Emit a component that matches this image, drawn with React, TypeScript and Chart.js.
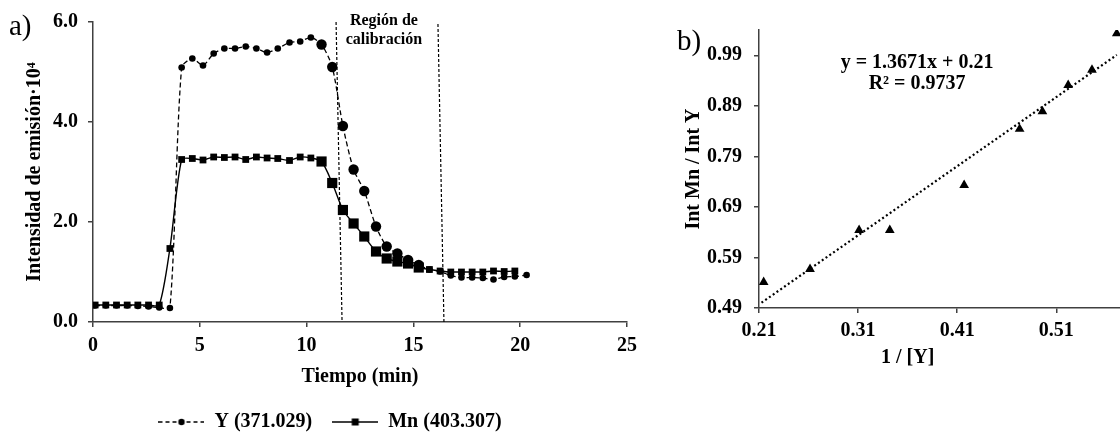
import React, { useEffect, useRef } from 'react';
import { Chart, registerables } from 'chart.js';
Chart.register(...registerables);

const FONT = "'Liberation Serif', 'Times New Roman', serif";

// ---------- Panel a) ----------
const TIME_MIN = [0.1, 0.6, 1.1, 1.6, 2.1, 2.6, 3.1, 3.6, 4.15, 4.65, 5.15, 5.65, 6.15, 6.65, 7.15, 7.65, 8.15, 8.65, 9.2, 9.7, 10.2, 10.7, 11.2, 11.7, 12.2, 12.7, 13.25, 13.75, 14.25, 14.75, 15.25, 15.75, 16.25, 16.75, 17.25, 17.75, 18.25, 18.75, 19.25, 19.75, 20.3];
const Y_371 = [0.33, 0.33, 0.33, 0.33, 0.32, 0.31, 0.29, 0.28, 5.09, 5.27, 5.13, 5.37, 5.47, 5.47, 5.51, 5.47, 5.39, 5.47, 5.59, 5.61, 5.69, 5.55, 5.10, 3.92, 3.05, 2.62, 1.91, 1.51, 1.37, 1.24, 1.14, 1.05, 1.01, 0.93, 0.89, 0.89, 0.88, 0.85, 0.9, 0.91, 0.94];
const MN_403 = [0.34, 0.34, 0.34, 0.34, 0.34, 0.34, 0.34, 1.47, 3.25, 3.27, 3.24, 3.3, 3.29, 3.3, 3.25, 3.3, 3.28, 3.27, 3.23, 3.3, 3.28, 3.21, 2.78, 2.24, 1.97, 1.71, 1.41, 1.27, 1.21, 1.17, 1.09, 1.05, 1.02, 1.0, 1.0, 1.0, 1.0, 1.02, 1.01, 1.02, null];
const SERIES_LABELS = ['Y (371.029)', 'Mn (403.307)'];
const CAL_START_X = [11.38, 11.66];
const CAL_START_Y = [6.0, 0.0];
const CAL_END_X = [16.15, 16.43];
const CAL_END_Y = [5.96, 0.0];
const REGION_LABEL = ['Región de', 'calibración'];
const REGION_LABEL_X = 13.62;
const A_X_TICKS = [0, 5, 10, 15, 20, 25];
const A_Y_TICKS = [0, 2, 4, 6];
const BIG_MARK_RANGE = [10.6, 15.3];

// ---------- Panel b) ----------
const INV_Y = [0.2147, 0.2615, 0.311, 0.342, 0.417, 0.473, 0.496, 0.522, 0.546, 0.571];
const RATIO = [0.541, 0.567, 0.644, 0.644, 0.733, 0.844, 0.879, 0.931, 0.961, 1.033];
const TREND_SLOPE = 1.3671;
const TREND_INTERCEPT = 0.21;
const TREND_X = [0.2125, 0.571];
const EQUATION = ['y = 1.3671x + 0.21', 'R² = 0.9737'];
const B_X_TICKS = [0.21, 0.31, 0.41, 0.51];
const B_Y_TICKS = [0.49, 0.59, 0.69, 0.79, 0.89, 0.99];

const LEFT_W = 660;
const LEFT_H = 442;
const RIGHT_LEFT = 650;
const RIGHT_W = 511;
const RIGHT_H = 432;
const AXIS_COLOR = '#404040';

const tickFont = { family: FONT, size: 20, weight: 'bold' as const };

function makeIcon(kind: 'circle' | 'square') {
  const c = document.createElement('canvas');
  c.width = 46;
  c.height = 12;
  const g = c.getContext('2d')!;
  g.strokeStyle = '#000';
  g.fillStyle = '#000';
  g.lineWidth = 1.3;
  if (kind === 'circle') g.setLineDash([4, 3]);
  g.beginPath();
  g.moveTo(0, 6);
  g.lineTo(46, 6);
  g.stroke();
  g.setLineDash([]);
  if (kind === 'circle') {
    g.beginPath();
    g.arc(23, 6, 3.2, 0, Math.PI * 2);
    g.fill();
  } else {
    g.fillRect(19.5, 2.5, 7, 7);
  }
  return c;
}

const isBig = (t: number) => t >= BIG_MARK_RANGE[0] && t <= BIG_MARK_RANGE[1];

export default function App() {
  const leftRef = useRef<HTMLCanvasElement>(null);
  const rightRef = useRef<HTMLCanvasElement>(null);

  useEffect(() => {
    const icons = [makeIcon('circle'), makeIcon('square')];

    const leftText = {
      id: 'leftText',
      afterDraw(chart: any) {
        const { ctx, scales } = chart;
        const x = scales.x;
        const y = scales.y;
        ctx.save();
        ctx.fillStyle = '#000';
        ctx.font = `29px ${FONT}`;
        ctx.textAlign = 'left';
        ctx.textBaseline = 'alphabetic';
        ctx.fillText('a)', 9, 35);
        ctx.font = `bold 16px ${FONT}`;
        ctx.textAlign = 'center';
        ctx.textBaseline = 'middle';
        const cx = x.getPixelForValue(REGION_LABEL_X);
        ctx.fillText(REGION_LABEL[0], cx, y.top - 1);
        ctx.fillText(REGION_LABEL[1], cx, y.top + 18);
        ctx.restore();
      },
    };

    const axisCommon = {
      border: { display: true, color: AXIS_COLOR, width: 1.5 },
      grid: { drawOnChartArea: false, drawTicks: true, tickLength: 5, color: AXIS_COLOR, lineWidth: 1.5 },
    };

    const left = new Chart(leftRef.current!, {
      type: 'line',
      data: {
        datasets: [
          {
            label: SERIES_LABELS[0],
            data: TIME_MIN.map((t, i) => ({ x: t, y: Y_371[i] })),
            borderColor: '#000',
            backgroundColor: '#000',
            borderWidth: 1.3,
            borderDash: [5, 3],
            pointStyle: 'circle',
            pointRadius: TIME_MIN.map((t) => (isBig(t) ? 5.2 : 3.3)),
            pointBorderWidth: 0,
            pointBackgroundColor: '#000',
            tension: 0.25,
          },
          {
            label: SERIES_LABELS[1],
            data: TIME_MIN.map((t, i) => ({ x: t, y: MN_403[i] })),
            borderColor: '#000',
            backgroundColor: '#000',
            borderWidth: 1.4,
            pointStyle: 'rect',
            pointRadius: TIME_MIN.map((t) => (isBig(t) ? 7.2 : 4.8)),
            pointBorderWidth: 0,
            pointBackgroundColor: '#000',
            tension: 0.25,
          },
          {
            label: 'cal-start',
            data: CAL_START_X.map((v, i) => ({ x: v, y: CAL_START_Y[i] })),
            borderColor: '#000',
            borderWidth: 1.2,
            borderDash: [3, 2],
            pointRadius: 0,
            tension: 0,
          },
          {
            label: 'cal-end',
            data: CAL_END_X.map((v, i) => ({ x: v, y: CAL_END_Y[i] })),
            borderColor: '#000',
            borderWidth: 1.2,
            borderDash: [3, 2],
            pointRadius: 0,
            tension: 0,
          },
        ],
      },
      options: {
        animation: false,
        responsive: false,
        layout: { padding: { top: 22, left: 0, right: 0, bottom: 0 } },
        plugins: {
          tooltip: { enabled: false },
          legend: {
            position: 'bottom',
            labels: {
              usePointStyle: true,
              pointStyleWidth: 46,
              padding: 20,
              color: '#000',
              font: tickFont,
              generateLabels: () =>
                SERIES_LABELS.map((text, i) => ({
                  text,
                  pointStyle: icons[i] as any,
                  fillStyle: '#000',
                  strokeStyle: '#000',
                  lineWidth: 0,
                  hidden: false,
                  datasetIndex: i,
                  fontColor: '#000',
                })),
            },
          },
        },
        scales: {
          x: {
            type: 'linear',
            min: 0,
            max: 25,
            afterBuildTicks: (s: any) => {
              s.ticks = A_X_TICKS.map((v) => ({ value: v }));
            },
            ticks: { color: '#000', font: tickFont, padding: 7, maxRotation: 0, callback: (v: any) => String(v) },
            title: { display: true, text: 'Tiempo (min)', color: '#000', font: tickFont, padding: { top: 0, bottom: 3 } },
            afterFit: (s: any) => {
              s.height = 70;
            },
            ...axisCommon,
          },
          y: {
            type: 'linear',
            min: 0,
            max: 6,
            afterBuildTicks: (s: any) => {
              s.ticks = A_Y_TICKS.map((v) => ({ value: v }));
            },
            ticks: { color: '#000', font: tickFont, padding: 10, callback: (v: any) => Number(v).toFixed(1) },
            title: { display: true, text: 'Intensidad de emisión·10⁴', color: '#000', font: tickFont, padding: { top: 23, bottom: 0 } },
            afterFit: (s: any) => {
              s.width = 93;
            },
            ...axisCommon,
          },
          yR: {
            type: 'linear',
            position: 'right',
            display: true,
            ticks: { display: false },
            grid: { display: false },
            border: { display: false },
            afterFit: (s: any) => {
              s.width = 33;
            },
          },
        },
      } as any,
      plugins: [leftText],
    });

    const rightText = {
      id: 'rightText',
      afterDraw(chart: any) {
        const { ctx, scales, chartArea } = chart;
        const x = scales.x;
        const y = scales.y;
        ctx.save();
        ctx.fillStyle = '#000';
        ctx.font = `29px ${FONT}`;
        ctx.textAlign = 'left';
        ctx.textBaseline = 'alphabetic';
        ctx.fillText('b)', 27, 50);
        ctx.font = `bold 20px ${FONT}`;
        ctx.textAlign = 'center';
        ctx.textBaseline = 'middle';
        const ex = x.getPixelForValue(0.3695);
        const ey = y.getPixelForValue(0.975);
        ctx.fillText(EQUATION[0], ex, ey);
        ctx.fillText(EQUATION[1], ex, ey + 21);
        ctx.fillText('1 / [Y]', x.getPixelForValue(0.36), chartArea.bottom + 50);
        ctx.restore();
      },
    };

    const right = new Chart(rightRef.current!, {
      type: 'scatter',
      data: {
        datasets: [
          {
            label: 'Int Mn / Int Y',
            data: INV_Y.map((v, i) => ({ x: v, y: RATIO[i] })),
            pointStyle: 'triangle',
            pointRadius: 5.6,
            pointBorderWidth: 0,
            backgroundColor: '#000',
            borderColor: '#000',
          },
          {
            type: 'line',
            label: 'Lineal',
            data: TREND_X.map((v) => ({ x: v, y: TREND_SLOPE * v + TREND_INTERCEPT })),
            borderColor: '#000',
            borderWidth: 2.2,
            borderDash: [2, 2.6],
            pointRadius: 0,
            showLine: true,
          } as any,
        ],
      },
      options: {
        animation: false,
        responsive: false,
        layout: { padding: { top: 30, left: 0, right: 0, bottom: 0 } },
        plugins: { legend: { display: false }, tooltip: { enabled: false } },
        scales: {
          x: {
            type: 'linear',
            min: 0.21,
            max: 0.61,
            afterBuildTicks: (s: any) => {
              s.ticks = B_X_TICKS.map((v) => ({ value: v }));
            },
            ticks: { color: '#000', font: tickFont, padding: 5.5, maxRotation: 0, callback: (v: any) => Number(v).toFixed(2) },
            afterFit: (s: any) => {
              s.height = 124;
            },
            ...axisCommon,
          },
          y: {
            type: 'linear',
            min: 0.49,
            max: 1.04,
            afterBuildTicks: (s: any) => {
              s.ticks = B_Y_TICKS.map((v) => ({ value: v }));
            },
            ticks: { color: '#000', font: tickFont, padding: 12, callback: (v: any) => Number(v).toFixed(2) },
            title: { display: true, text: 'Int Mn / Int Y', color: '#000', font: tickFont, padding: { top: 31.5, bottom: 0 } },
            afterFit: (s: any) => {
              s.width = 109;
            },
            ...axisCommon,
          },
        },
      } as any,
      plugins: [rightText],
    });

    return () => {
      left.destroy();
      right.destroy();
    };
  }, []);

  return (
    <div style={{ position: 'fixed', left: 0, top: 0, width: 1120, height: 432, overflow: 'hidden', background: '#fff' }}>
      <canvas ref={leftRef} width={LEFT_W} height={LEFT_H} style={{ position: 'absolute', left: 0, top: 0 }} />
      <canvas ref={rightRef} width={RIGHT_W} height={RIGHT_H} style={{ position: 'absolute', left: RIGHT_LEFT, top: 0 }} />
    </div>
  );
}
